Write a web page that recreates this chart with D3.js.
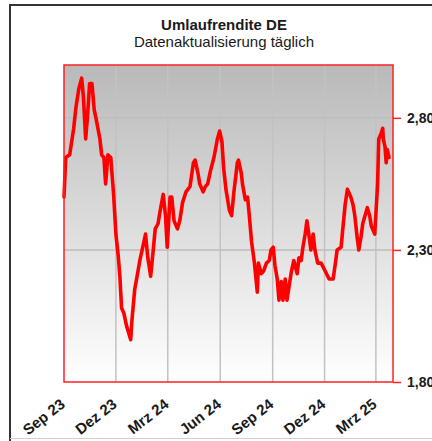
<!DOCTYPE html>
<html>
<head>
<meta charset="utf-8">
<script src="https://cdn.jsdelivr.net/npm/d3@7"></script>
<style>
  html, body { margin: 0; padding: 0; background: #ffffff; }
  svg { display: block; }
  text { font-family: "Liberation Sans", Arial, sans-serif; fill: #1a1a1a; }
</style>
</head>
<body>
<svg id="chart" width="432" height="441"></svg>
<script>
const title = "Umlaufrendite DE";
const subtitle = "Datenaktualisierung täglich";

const dates = [
"2023-09-01","2023-09-04","2023-09-11","2023-09-18","2023-09-22","2023-09-27","2023-10-02","2023-10-05","2023-10-09","2023-10-12",
"2023-10-16","2023-10-20","2023-10-24","2023-10-27","2023-11-03","2023-11-06","2023-11-10","2023-11-13","2023-11-17","2023-11-22",
"2023-11-27","2023-12-01","2023-12-05","2023-12-08","2023-12-11","2023-12-15","2023-12-20","2023-12-27","2023-12-29","2024-01-03",
"2024-01-08","2024-01-12","2024-01-17","2024-01-22","2024-01-26","2024-01-31","2024-02-05","2024-02-08","2024-02-13","2024-02-16",
"2024-02-22","2024-02-26","2024-02-29","2024-03-05","2024-03-08","2024-03-12","2024-03-18","2024-03-22","2024-03-27","2024-04-02",
"2024-04-09","2024-04-15","2024-04-18","2024-04-23","2024-04-26","2024-05-02","2024-05-06","2024-05-10","2024-05-15","2024-05-21",
"2024-05-27","2024-05-31","2024-06-04","2024-06-07","2024-06-11","2024-06-17","2024-06-21","2024-06-25","2024-07-01","2024-07-03",
"2024-07-08","2024-07-10","2024-07-15","2024-07-19","2024-07-22","2024-07-26","2024-07-31","2024-08-05","2024-08-07","2024-08-12",
"2024-08-16","2024-08-21","2024-08-26","2024-08-29","2024-09-02","2024-09-05","2024-09-09","2024-09-12","2024-09-16","2024-09-19",
"2024-09-23","2024-09-26","2024-10-01","2024-10-04","2024-10-08","2024-10-14","2024-10-17","2024-10-21","2024-10-24","2024-10-28",
"2024-10-31","2024-11-04","2024-11-07","2024-11-11","2024-11-14","2024-11-19","2024-11-25","2024-12-02","2024-12-09","2024-12-16",
"2024-12-20","2024-12-23","2024-12-30","2025-01-02","2025-01-06","2025-01-10","2025-01-16","2025-01-20","2025-01-23","2025-01-27",
"2025-01-30","2025-02-03","2025-02-06","2025-02-10","2025-02-14","2025-02-18","2025-02-21","2025-02-27","2025-03-04","2025-03-06",
"2025-03-10","2025-03-13","2025-03-14","2025-03-17","2025-03-19","2025-03-21","2025-03-24"
];

const yields = [
2.50,2.65,2.66,2.76,2.84,2.91,2.95,2.88,2.72,2.80,
2.93,2.93,2.83,2.80,2.72,2.66,2.65,2.55,2.66,2.65,
2.51,2.36,2.28,2.20,2.08,2.06,2.01,1.96,2.03,2.15,
2.21,2.26,2.31,2.36,2.27,2.20,2.31,2.38,2.40,2.44,
2.51,2.43,2.31,2.50,2.50,2.41,2.38,2.41,2.48,2.52,
2.54,2.63,2.64,2.59,2.55,2.52,2.54,2.55,2.60,2.65,
2.72,2.75,2.71,2.61,2.53,2.45,2.43,2.52,2.63,2.64,
2.59,2.55,2.49,2.50,2.43,2.33,2.25,2.14,2.25,2.21,
2.22,2.25,2.26,2.30,2.31,2.24,2.19,2.11,2.18,2.11,
2.19,2.11,2.18,2.22,2.26,2.21,2.27,2.26,2.31,2.36,
2.41,2.35,2.30,2.36,2.30,2.25,2.25,2.22,2.19,2.19,
2.25,2.30,2.31,2.38,2.47,2.53,2.50,2.47,2.43,2.35,
2.30,2.35,2.40,2.43,2.46,2.43,2.39,2.36,2.55,2.72,
2.74,2.76,2.72,2.69,2.63,2.68,2.65
];

const xTickDates = ["2023-09-01","2023-12-01","2024-03-01","2024-06-01","2024-09-01","2024-12-01","2025-03-01"];
const xTickLabels = ["Sep 23","Dez 23","Mrz 24","Jun 24","Sep 24","Dez 24","Mrz 25"];
const yTicks = [1.80, 2.30, 2.80];
const xDomain = ["2023-09-01","2025-03-31"];
const yDomain = [1.80, 3.00];

const parse = d3.utcParse("%Y-%m-%d");
const data = dates.map((d, i) => ({ date: parse(d), value: yields[i] }));

const svg = d3.select("#chart");
const plot = { left: 64, right: 393, top: 65, bottom: 382 };

// outer frame
svg.append("line").attr("x1", 10).attr("y1", 5).attr("x2", 432).attr("y2", 5)
  .attr("stroke", "#333").attr("stroke-width", 2);
svg.append("line").attr("x1", 10).attr("y1", 4).attr("x2", 10).attr("y2", 441)
  .attr("stroke", "#333").attr("stroke-width", 2);
svg.append("line").attr("x1", 10).attr("y1", 438.5).attr("x2", 432).attr("y2", 438.5)
  .attr("stroke", "#d0d0d0").attr("stroke-width", 1);

// title
svg.append("text").attr("x", 224).attr("y", 30).attr("text-anchor", "middle")
  .style("font-size", "15px").style("font-weight", "bold").text(title);
svg.append("text").attr("x", 224).attr("y", 47).attr("text-anchor", "middle")
  .style("font-size", "15px").text(subtitle);

const x = d3.scaleUtc().domain(xDomain.map(parse)).range([plot.left, plot.right]);
const y = d3.scaleLinear().domain(yDomain).range([plot.bottom, plot.top]);

// gradient background
const defs = svg.append("defs");
const grad = defs.append("linearGradient").attr("id", "bg").attr("x1", 0).attr("y1", 0).attr("x2", 0).attr("y2", 1);
grad.append("stop").attr("offset", "0%").attr("stop-color", "#b9b9b9");
grad.append("stop").attr("offset", "100%").attr("stop-color", "#ffffff");

svg.append("rect").attr("x", plot.left).attr("y", plot.top)
  .attr("width", plot.right - plot.left).attr("height", plot.bottom - plot.top)
  .attr("fill", "url(#bg)");

// grid
const grid = svg.append("g");
grid.selectAll("line.v").data(xTickDates.slice(1)).join("line")
  .attr("x1", d => x(parse(d))).attr("x2", d => x(parse(d)))
  .attr("y1", plot.top).attr("y2", plot.bottom)
  .attr("stroke", "#c2c2c2").attr("stroke-width", 1.5);
grid.selectAll("line.h").data(yTicks.slice(1)).join("line")
  .attr("x1", plot.left).attr("x2", plot.right)
  .attr("y1", d => y(d)).attr("y2", d => y(d))
  .attr("stroke", "#bdbdbd").attr("stroke-width", 1.5);

// line
const line = d3.line().x(d => x(d.date)).y(d => y(d.value)).curve(d3.curveLinear);
svg.append("path").datum(data).attr("d", line)
  .attr("fill", "none").attr("stroke", "#ff0000").attr("stroke-width", 3.6)
  .attr("stroke-linejoin", "round").attr("stroke-linecap", "round");

// plot border
svg.append("rect").attr("x", plot.left).attr("y", plot.top)
  .attr("width", plot.right - plot.left).attr("height", plot.bottom - plot.top)
  .attr("fill", "none").attr("stroke", "#ff2020").attr("stroke-width", 1.5);

// y axis on right
const fmt = v => d3.format(".2f")(v).replace(".", ",");
const yAxis = d3.axisRight(y).tickValues(yTicks).tickSize(8).tickPadding(6).tickFormat(fmt);
const ya = svg.append("g").attr("transform", `translate(${plot.right},0)`).call(yAxis);
ya.select(".domain").remove();
ya.selectAll(".tick line").attr("stroke", "#ff2020").attr("stroke-width", 1.5);
ya.selectAll(".tick text").style("font-size", "14px").style("font-weight", "bold")
  .style("font-family", "'Liberation Sans', Arial, sans-serif").attr("fill", "#1a1a1a");

// x labels
const xl = svg.append("g");
xl.selectAll("text").data(xTickDates).join("text")
  .attr("text-anchor", "end")
  .attr("transform", d => `translate(${x(parse(d)) + 2},${plot.bottom + 24}) rotate(-38)`)
  .style("font-size", "15px").style("font-weight", "bold")
  .text((d, i) => xTickLabels[i]);
</script>
</body>
</html>
